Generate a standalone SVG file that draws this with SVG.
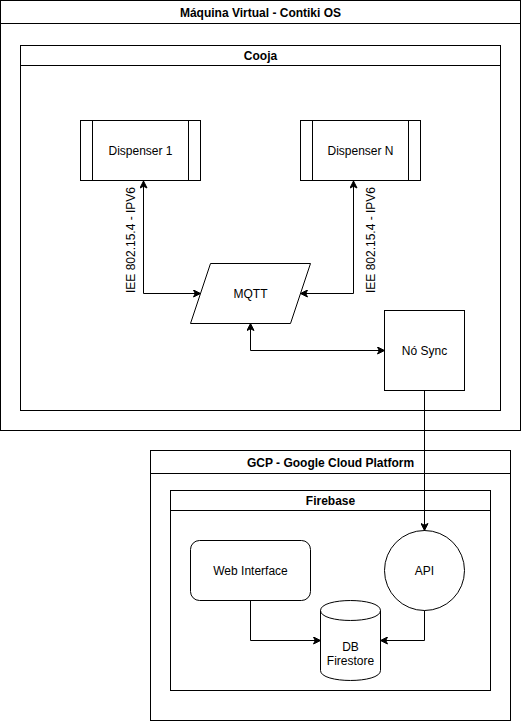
<svg xmlns="http://www.w3.org/2000/svg" width="521" height="721" viewBox="0 0 521 721">
<style>
.b{fill:#fff;stroke:#000;stroke-width:1}
.n{fill:none;stroke:#000;stroke-width:1}
.t{font-family:"Liberation Sans",Arial,sans-serif;font-size:12px;fill:#000;text-anchor:middle}
.h{font-weight:bold}
.c{fill:none;stroke:#000;stroke-width:1}
</style>
<defs>
<marker id="a" viewBox="-8 -4 9 8" refX="0" refY="0" markerWidth="9" markerHeight="8" markerUnits="userSpaceOnUse" orient="auto-start-reverse">
<path d="M0,0 L-7,-3.5 L-5.25,0 L-7,3.5 Z" fill="#000" stroke="#000" stroke-width="1"/>
</marker>
</defs>
<rect width="521" height="721" fill="#fff"/>
<g id="vm">
<rect class="b" x="0.5" y="0.5" width="520" height="430"/>
<line class="n" x1="0.5" y1="23.5" x2="520.5" y2="23.5"/>
<text class="t h" x="260.5" y="17">Máquina Virtual - Contiki OS</text>
</g>
<g id="cooja">
<rect class="b" x="20.5" y="45.5" width="480" height="365"/>
<line class="n" x1="20.5" y1="65.5" x2="500.5" y2="65.5"/>
<text class="t h" x="260.5" y="60">Cooja</text>
</g>
<g id="gcp">
<rect class="b" x="150.5" y="450.5" width="360" height="270"/>
<line class="n" x1="150.5" y1="473.5" x2="510.5" y2="473.5"/>
<text class="t h" x="330.5" y="467">GCP - Google Cloud Platform</text>
</g>
<g id="firebase">
<rect class="b" x="170.5" y="490.5" width="320" height="200"/>
<line class="n" x1="170.5" y1="510.5" x2="490.5" y2="510.5"/>
<text class="t h" x="330.5" y="505">Firebase</text>
</g>
<g id="dispenser1">
<rect class="b" x="80.5" y="120.5" width="120" height="60"/>
<line class="n" x1="92.5" y1="120.5" x2="92.5" y2="180.5"/>
<line class="n" x1="188.5" y1="120.5" x2="188.5" y2="180.5"/>
<text class="t" x="140.5" y="155">Dispenser 1</text>
</g>
<g id="dispenserN">
<rect class="b" x="300.5" y="120.5" width="120" height="60"/>
<line class="n" x1="312.5" y1="120.5" x2="312.5" y2="180.5"/>
<line class="n" x1="408.5" y1="120.5" x2="408.5" y2="180.5"/>
<text class="t" x="360.5" y="155">Dispenser N</text>
</g>
<g id="mqtt">
<polygon class="b" points="210.5,263.5 310.5,263.5 290.5,323.5 190.5,323.5"/>
<text class="t" x="250.5" y="298">MQTT</text>
</g>
<g id="nosync">
<rect class="b" x="384.5" y="310.5" width="80" height="80"/>
<text class="t" x="424.5" y="355">Nó Sync</text>
</g>
<g id="web">
<rect class="b" x="190.5" y="540.5" width="120" height="60" rx="9" ry="9"/>
<text class="t" x="250.5" y="575">Web Interface</text>
</g>
<g id="api">
<circle class="b" cx="424.5" cy="570.5" r="40"/>
<text class="t" x="424.5" y="575">API</text>
</g>
<g id="db">
<path class="b" d="M320.5,610.5 C320.5,597.2 380.5,597.2 380.5,610.5 L380.5,670.5 C380.5,683.8 320.5,683.8 320.5,670.5 Z"/>
<path class="n" d="M320.5,610.5 C320.5,623.8 380.5,623.8 380.5,610.5"/>
<text class="t" x="350.5" y="651">DB</text>
<text class="t" x="350.5" y="665">Firestore</text>
</g>
<g id="connectors">
<polyline class="c" points="200.5,293.5 143.5,293.5 143.5,181" marker-start="url(#a)" marker-end="url(#a)"/>
<polyline class="c" points="300.5,293.5 353.5,293.5 353.5,181" marker-start="url(#a)" marker-end="url(#a)"/>
<polyline class="c" points="250.5,323.5 250.5,350.5 384.5,350.5" marker-start="url(#a)" marker-end="url(#a)"/>
<polyline class="c" points="424.5,390.5 424.5,530.5" marker-end="url(#a)"/>
<polyline class="c" points="250.5,600.5 250.5,640.5 320.5,640.5" marker-end="url(#a)"/>
<polyline class="c" points="424.5,610.5 424.5,640.5 380.5,640.5" marker-end="url(#a)"/>
<text class="t" transform="translate(134.5,240) rotate(-90)">IEE 802.15.4 - IPV6</text>
<text class="t" transform="translate(374.5,240) rotate(-90)">IEE 802.15.4 - IPV6</text>
</g>
</svg>
